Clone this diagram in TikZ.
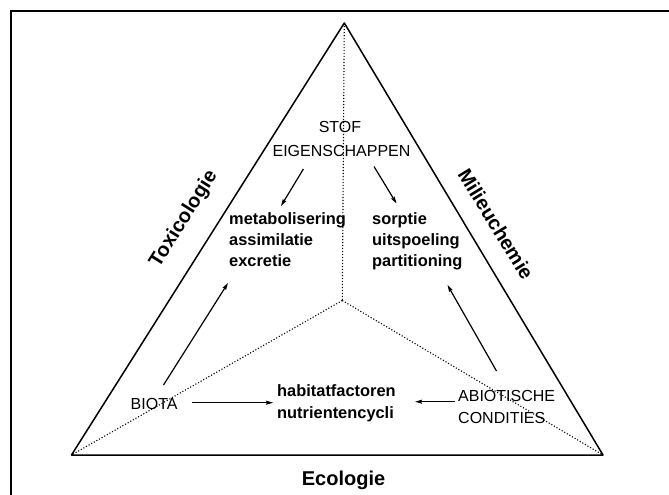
\documentclass[tikz,border=0pt]{standalone}
\usepackage{fontspec}
\setmainfont{Liberation Sans}
\usetikzlibrary{arrows.meta}
\begin{document}
\begin{tikzpicture}[x=1pt,y=-1pt,
  frameline/.style={line width=1.3pt},
  side/.style={line width=1.5pt, line join=round},
  dotline/.style={line width=1.1pt, dash pattern=on 1.1pt off 1.9pt},
  arr/.style={line width=1.2pt, -{Stealth[length=7pt,width=4pt,inset=1pt]}},
  thinarr/.style={line width=0.7pt, -{Stealth[length=7pt,width=4pt,inset=1pt]}},
  reg/.style={font=\fontsize{16}{20}\selectfont, inner sep=0pt},
  bld/.style={font=\fontsize{16.4}{21}\selectfont\bfseries, inner sep=0pt},
  big/.style={font=\fontsize{20}{24}\selectfont\bfseries, inner sep=0pt}]
\useasboundingbox (0,0) rectangle (669,495);
% frame (top and left edges)
\draw[frameline] (11,495) -- (11,11) -- (669,11);
% triangle
\coordinate (A) at (344.3,23);
\coordinate (L) at (71.5,455);
\coordinate (R) at (603,455);
\coordinate (C) at (342.3,300.5);
\draw[side] (A) -- (L) -- (R) -- cycle;
\draw[dotline] (A) -- (C);
\draw[dotline] (C) -- (L);
\draw[dotline] (C) -- (R);
% texts
\node[reg, anchor=base] (stof) at (340,132) {STOF};
\node[reg, anchor=base] (eig) at (341.5,156.5) {EIGENSCHAPPEN};
\node[bld, anchor=base west] (met) at (229,224) {metabolisering};
\node[bld, anchor=base west] (ass) at (229,245.5) {assimilatie};
\node[bld, anchor=base west] (exc) at (229,266.8) {excretie};
\node[bld, anchor=base west] (sor) at (372,224) {sorptie};
\node[bld, anchor=base west] (uit) at (372,245.5) {uitspoeling};
\node[bld, anchor=base west] (par) at (372,266.8) {partitioning};
\node[bld, anchor=base west] (hab) at (277,396.7) {habitatfactoren};
\node[bld, anchor=base west] (nut) at (277,418.3) {nutrientencycli};
\node[reg, anchor=base west] (biota) at (130.5,409.3) {BIOTA};
\node[reg, anchor=base west] (abio) at (458,401.7) {ABIOTISCHE};
\node[reg, anchor=base west] (cond) at (458,423) {CONDITIES};
\node[big, anchor=base] (eco) at (343.5,485) {Ecologie};
\node[big, rotate=57.8] (tox) at (184,219) {Toxicologie};
\node[big, rotate=-58.5] (mil) at (496,224) {Milieuchemie};
% arrow end points
\coordinate (e1s) at (303.4,169);
\coordinate (e1e) at (281,206);
\coordinate (e2s) at (374,166.5);
\coordinate (e2e) at (396.5,203.5);
\coordinate (b1s) at (163.5,385);
\coordinate (b1e) at (228,283);
\coordinate (b2s) at (192,402.7);
\coordinate (b2e) at (273,402.7);
\coordinate (c1s) at (496.5,371);
\coordinate (c1e) at (447.5,285);
\coordinate (c2s) at (455,401.7);
\coordinate (c2e) at (415,401.7);
\draw[arr] (e1s) -- (e1e);
\draw[arr] (e2s) -- (e2e);
\draw[arr] (b1s) -- (b1e);
\draw[thinarr] (b2s) -- (b2e);
\draw[arr] (c1s) -- (c1e);
\draw[arr] (c2s) -- (c2e);
\end{tikzpicture}
\end{document}
